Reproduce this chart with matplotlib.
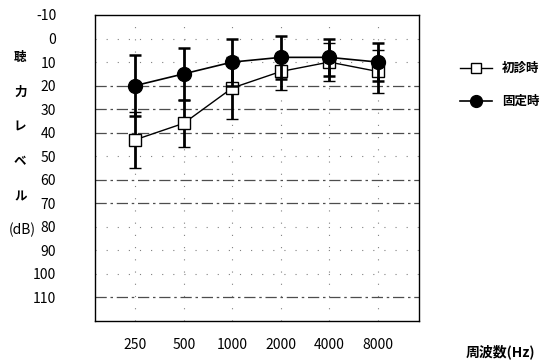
import numpy as np
import matplotlib
matplotlib.use("Agg")
import matplotlib.pyplot as plt

plt.rcParams['font.family'] = ['Noto Sans CJK JP', 'DejaVu Sans']

freqs = ["250", "500", "1000", "2000", "4000", "8000"]
first_visit = [43, 36, 21, 14, 10, 14]
first_err = [12, 10, 13, 8, 8, 9]
fixed = [20, 15, 10, 8, 8, 10]
fixed_err = [13, 11, 10, 9, 8, 8]
levels = np.arange(-10, 111, 10)

x = np.arange(len(freqs))

fig = plt.figure(figsize=(5.47, 3.63), dpi=100)
ax = fig.add_axes([0.1737, 0.1157, 0.5923, 0.843])

# grid: some levels drawn as long dashes, the rest faint dots
strong = [20, 30, 40, 60, 70, 110]
for lv in levels[1:]:
    if lv in strong:
        ax.axhline(lv, color="0.3", lw=0.9, ls=(0, (9, 3, 2, 3)), zorder=1)
    else:
        ax.axhline(lv, color="0.5", lw=0.8, ls=(0, (1, 9)), zorder=1)
for xi in x:
    ax.axvline(xi, color="0.5", lw=0.8, ls=(0, (1, 10)), zorder=1)

ax.errorbar(x, first_visit, yerr=first_err, color="black", lw=1.0,
            elinewidth=2.0, capsize=4.5, capthick=1.8,
            marker="s", ms=9, mfc="white", mec="black", mew=1.0,
            label="初診時", zorder=3)
ax.errorbar(x, fixed, yerr=fixed_err, color="black", lw=1.2,
            elinewidth=2.0, capsize=4.5, capthick=1.8,
            marker="o", ms=10, mfc="black", mec="black",
            label="固定時", zorder=4)

ax.set_xlim(-0.83, 5.85)
ax.set_ylim(120, -10)
ax.set_yticks(levels)
ax.set_yticklabels([str(v) for v in levels])
ax.set_xticks(x)
ax.set_xticklabels(freqs)
ax.tick_params(axis="y", length=0, pad=28, labelsize=10)
ax.tick_params(axis="x", length=0, pad=12, labelsize=10)
for s in ax.spines.values():
    s.set_linewidth(1.0)

handles, labels = ax.get_legend_handles_labels()
handles = [h[0] for h in handles]
fig.legend(handles, labels, loc="upper left", bbox_to_anchor=(0.82, 0.86),
           frameon=False, prop={"size": 9, "weight": "bold"},
           handlelength=2.6, labelspacing=1.6, markerscale=0.85)

for i, ch in enumerate(["聴", "力", "レ", "ベ", "ル"]):
    fig.text(0.037, 1 - (57 + 35 * i) / 363, ch, fontsize=9,
             fontweight="bold", ha="center", va="center")
fig.text(0.04, 1 - 230 / 363, "(dB)", fontsize=10, ha="center", va="center")
fig.text(0.915, 1 - 352 / 363, "周波数(Hz)", fontsize=10, fontweight="bold",
         ha="center", va="center")

fig.savefig("out.png", dpi=100)
